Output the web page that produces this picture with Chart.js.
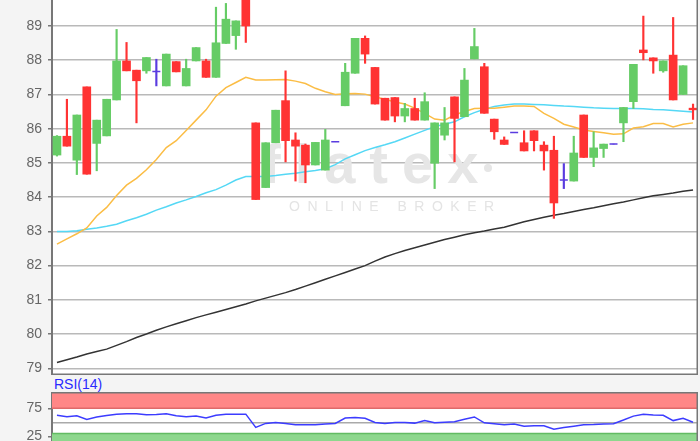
<!DOCTYPE html>
<html><head><meta charset="utf-8">
<script src="https://cdn.jsdelivr.net/npm/chart.js@4/dist/chart.umd.min.js"></script>
<style>
html,body{margin:0;padding:0;background:#f4f4f4;width:700px;height:441px;overflow:hidden;position:relative}
#main{position:absolute;left:0;top:0;width:700px;height:375px}
#rsiLabel{position:absolute;left:54px;top:376px;font:14px "Liberation Sans",Arial,sans-serif;color:#2a2aff;line-height:16px}
#rsi{position:absolute;left:0;top:392px;width:700px;height:60px}
</style></head><body>
<div id="main"><canvas id="c1"></canvas></div>
<div id="rsiLabel">RSI(14)</div>
<div id="rsi"><canvas id="c2"></canvas></div>
<script>
const opens = [85.23,85.78,85.08,87.22,85.57,85.79,86.84,87.98,87.71,87.69,
  87.67,87.25,87.96,87.25,87.98,87.98,87.50,88.49,88.72,90.00,
  86.17,84.28,85.59,86.82,85.67,85.52,84.94,84.79,85.62,86.67,
  87.62,88.64,87.79,86.89,86.91,86.37,86.59,86.25,84.99,85.81,
  86.93,86.35,88.04,87.81,86.28,85.67,85.89,85.59,85.94,85.52,
  85.37,84.50,84.47,86.40,85.16,85.42,85.55,86.17,86.79,88.30,
  88.07,87.69,88.15,87.00,86.60];
const closes = [85.78,85.49,86.40,84.67,86.25,86.86,87.98,87.69,87.40,88.08,
  87.67,88.18,87.66,87.76,88.37,87.50,88.51,89.20,89.15,89.00,
  83.93,85.59,86.54,85.65,85.49,84.94,85.60,85.67,85.62,87.65,
  88.64,88.18,86.72,86.25,86.37,86.59,86.25,86.79,86.17,86.17,
  86.30,87.42,88.40,86.45,85.91,85.54,85.89,85.35,85.65,85.35,
  83.83,84.50,85.29,85.16,85.44,85.55,85.55,86.62,87.88,88.22,
  87.98,87.98,86.84,87.84,86.55];
const highs = [85.80,86.86,86.40,87.22,86.25,86.86,88.90,88.52,87.71,88.08,
  88.03,88.18,87.96,88.03,88.37,88.03,89.55,89.66,89.15,90.00,
  86.17,85.59,86.54,87.69,85.88,85.55,85.60,85.98,85.62,87.91,
  88.64,88.71,87.79,86.89,86.91,86.74,86.89,87.05,86.17,86.62,
  86.93,87.76,88.93,87.91,86.28,85.76,85.89,85.94,85.94,85.62,
  85.78,84.98,85.78,86.40,85.91,85.55,85.55,86.62,87.88,89.29,
  88.07,87.98,89.25,87.84,86.72];
const lows = [85.20,85.49,84.66,84.67,84.77,85.79,86.84,87.69,86.17,87.62,
  87.25,87.25,87.66,87.25,87.98,87.50,87.50,88.49,88.32,88.52,
  83.93,84.28,85.59,85.03,84.47,84.42,84.94,84.79,85.62,86.67,
  87.62,87.91,86.72,86.25,86.20,86.20,86.25,86.25,84.25,85.67,
  85.03,86.35,88.04,86.45,85.69,85.54,85.89,85.35,85.35,84.79,
  83.38,84.25,84.47,85.16,84.89,85.16,85.55,85.62,86.59,88.01,
  87.62,87.65,86.84,87.00,86.27];
const maShort = [82.63,82.78,82.93,83.10,83.45,83.70,84.05,84.35,84.55,84.80,
  85.10,85.45,85.65,85.95,86.25,86.55,86.95,87.20,87.35,87.50,
  87.42,87.42,87.43,87.44,87.39,87.32,87.18,87.08,87.00,87.02,
  87.03,87.01,86.93,86.86,86.78,86.72,86.60,86.45,86.28,86.25,
  86.40,86.50,86.59,86.60,86.60,86.63,86.66,86.66,86.65,86.45,
  86.30,86.13,86.05,85.96,85.92,85.88,85.84,85.85,86.02,86.06,
  86.15,86.15,86.05,86.13,86.17];
const maMid = [83.00,83.00,83.02,83.06,83.10,83.15,83.21,83.31,83.40,83.50,
  83.62,83.72,83.83,83.92,84.02,84.13,84.22,84.35,84.50,84.60,
  84.60,84.60,84.63,84.67,84.70,84.74,84.78,84.83,84.95,85.12,
  85.24,85.36,85.45,85.53,85.62,85.73,85.84,85.95,86.06,86.13,
  86.20,86.35,86.47,86.57,86.65,86.69,86.72,86.72,86.71,86.70,
  86.68,86.66,86.65,86.63,86.61,86.60,86.59,86.59,86.59,86.58,
  86.56,86.55,86.53,86.51,86.49];
const maLong = [79.17,79.25,79.33,79.42,79.49,79.56,79.67,79.78,79.90,80.00,
  80.11,80.21,80.30,80.39,80.48,80.56,80.64,80.72,80.80,80.88,
  80.97,81.05,81.13,81.21,81.30,81.40,81.50,81.60,81.70,81.80,
  81.90,82.00,82.13,82.25,82.35,82.44,82.52,82.60,82.68,82.76,
  82.83,82.90,82.96,83.01,83.07,83.12,83.20,83.28,83.35,83.41,
  83.47,83.52,83.58,83.64,83.69,83.75,83.81,83.86,83.92,83.98,
  84.04,84.08,84.12,84.17,84.21];
const rsiValues = [62.5,60,61.5,55,59.5,62,64.5,65,65,63.5,
  64,65,61.5,60,61,57.5,62.5,64.5,64.5,64.5,
  41,48,49.5,48,45.5,45.5,45.5,47,48,57.5,
  58.5,57,49.5,48,49.5,49.5,48.5,53,49,50,
  51,55.5,59.5,49,47.5,45.5,47,43,44,43.8,
  37.5,40.5,43,45.5,46,47,47.5,54,61,64.5,
  63,62.5,53,57,50];
const priceTicks = [79,80,81,82,83,84,85,86,87,88,89];
const rsiTicks = [25,50,75];
const rsiUpper = 75, rsiLower = 30;
const categories = opens.map((_, i) => 'T' + (i + 1));

const UP = '#66cc66', DOWN = '#ff3333', FLAT = '#5a3ce0';
const candleColors = opens.map((o, i) => closes[i] > o ? UP : (closes[i] < o ? DOWN : FLAT));
const FONT = '"Liberation Sans", Arial, sans-serif';

const chartBg = {
  id: 'chartBg',
  beforeDraw(chart) {
    const {ctx, chartArea: a} = chart;
    ctx.save(); ctx.fillStyle = '#ffffff';
    ctx.fillRect(a.left, a.top, a.right - a.left, a.bottom - a.top);
    ctx.restore();
  }
};
const frame = {
  id: 'frame',
  afterDraw(chart, args, opts) {
    const {ctx, chartArea: a} = chart;
    ctx.save(); ctx.strokeStyle = '#777'; ctx.lineWidth = 1.5;
    ctx.beginPath();
    if (opts.bottom) { ctx.moveTo(a.left, a.bottom - 0.75); ctx.lineTo(a.right, a.bottom - 0.75); }
    if (opts.top) { ctx.moveTo(a.left, a.top + 0.75); ctx.lineTo(a.right, a.top + 0.75); }
    ctx.moveTo(a.right - 0.75, a.top); ctx.lineTo(a.right - 0.75, a.bottom);
    ctx.stroke(); ctx.restore();
  }
};
const watermark = {
  id: 'watermark',
  beforeDatasetsDraw(chart) {
    const ctx = chart.ctx;
    ctx.save();
    ctx.fillStyle = '#e6e6e6';
    ctx.textAlign = 'left'; ctx.textBaseline = 'alphabetic';
    ctx.font = 'bold 56px ' + FONT;
    ctx.letterSpacing = '14px';
    ctx.fillText('flatex', 262, 183);
    ctx.beginPath(); ctx.arc(488, 168, 4, 0, Math.PI * 2); ctx.fill();
    ctx.fillStyle = '#e4e4e4';
    ctx.font = '14px ' + FONT;
    ctx.letterSpacing = '7.5px';
    ctx.fillText('ONLINE BROKER', 289, 211);
    ctx.restore();
  }
};
const bands = {
  id: 'bands',
  beforeDatasetsDraw(chart) {
    const {ctx, chartArea: a, scales: {y}} = chart;
    const yu = y.getPixelForValue(rsiUpper), yl = y.getPixelForValue(rsiLower);
    ctx.save();
    ctx.fillStyle = '#ff8787';
    ctx.fillRect(a.left, a.top, a.right - a.left, yu - a.top);
    ctx.fillStyle = '#8dd78d';
    ctx.fillRect(a.left, yl, a.right - a.left, a.bottom - yl);
    ctx.lineWidth = 1.5;
    ctx.strokeStyle = '#df6a6a';
    ctx.beginPath(); ctx.moveTo(a.left, yu); ctx.lineTo(a.right, yu); ctx.stroke();
    ctx.strokeStyle = '#62bb62';
    ctx.beginPath(); ctx.moveTo(a.left, yl); ctx.lineTo(a.right, yl); ctx.stroke();
    ctx.restore();
  }
};

function fitAxis(s) { s.width = 52; s.paddingTop = 0; s.paddingBottom = 0; }

new Chart(document.getElementById('c1'), {
  type: 'bar',
  data: {
    labels: categories,
    datasets: [
      {type: 'line', data: maLong, borderColor: '#333333', borderWidth: 1.5, pointRadius: 0, order: 6},
      {type: 'line', data: maMid, borderColor: '#55d8f5', borderWidth: 1.5, pointRadius: 0, order: 5},
      {type: 'line', data: maShort, borderColor: '#fbbd45', borderWidth: 1.5, pointRadius: 0, order: 4},
      {data: lows.map((l, i) => [l, highs[i]]), backgroundColor: candleColors, barThickness: 1.5, grouped: false, borderWidth: 0, order: 3},
      {data: opens.map((o, i) => o === closes[i] ? null : [o, closes[i]]), backgroundColor: candleColors, barThickness: 8, grouped: false, borderWidth: 0, order: 2},
      {type: 'line', data: opens.map((o, i) => o === closes[i] ? o : null), showLine: false, pointStyle: 'line', pointRadius: 4, pointBorderWidth: 1.5, pointBorderColor: FLAT, pointBackgroundColor: FLAT, order: 1}
    ]
  },
  options: {
    animation: false, responsive: true, maintainAspectRatio: false,
    layout: {autoPadding: false, padding: {left: 0, right: 2, top: 0, bottom: 0}},
    plugins: {legend: {display: false}, tooltip: {enabled: false}, frame: {bottom: true, top: false}},
    scales: {
      x: {display: false, offset: true},
      y: {
        min: 78.804, max: 89.76,
        afterBuildTicks: s => { s.ticks = priceTicks.map(v => ({value: v})); },
        afterFit: fitAxis,
        ticks: {color: '#666', font: {family: FONT, size: 14}, padding: 6},
        grid: {color: '#b9b9b9', lineWidth: 1.5, tickLength: 4, tickColor: '#777', tickWidth: 1.5},
        border: {display: true, color: '#777', width: 2}
      }
    }
  },
  plugins: [chartBg, watermark, frame]
});

new Chart(document.getElementById('c2'), {
  type: 'line',
  data: {
    labels: categories,
    datasets: [{data: rsiValues, borderColor: '#3c3cff', borderWidth: 1.5, pointRadius: 0}]
  },
  options: {
    animation: false, responsive: true, maintainAspectRatio: false,
    layout: {autoPadding: false, padding: {left: 0, right: 2, top: 0, bottom: 0}},
    plugins: {legend: {display: false}, tooltip: {enabled: false}, frame: {bottom: false, top: true}},
    scales: {
      x: {display: false, offset: true},
      y: {
        min: -3, max: 104,
        afterBuildTicks: s => { s.ticks = rsiTicks.map(v => ({value: v})); },
        afterFit: fitAxis,
        ticks: {color: '#666', font: {family: FONT, size: 14}, padding: 6, callback: v => v === 50 ? '' : String(v)},
        grid: {
          color: c => (c.tick && c.tick.value === 50) ? '#aaaaaa' : 'rgba(0,0,0,0)',
          tickColor: c => (c.tick && c.tick.value === 50) ? 'rgba(0,0,0,0)' : '#777',
          lineWidth: 1.5, tickLength: 4, tickWidth: 1.5
        },
        border: {display: true, color: '#777', width: 2}
      }
    }
  },
  plugins: [chartBg, bands, frame]
});
</script>
</body></html>
